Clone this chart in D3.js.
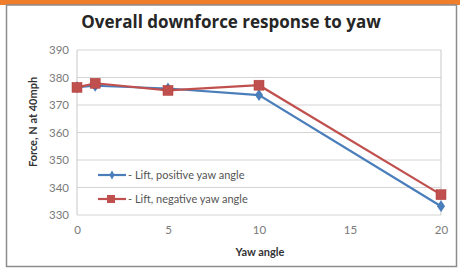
<!DOCTYPE html>
<html>
<head>
<meta charset="utf-8">
<script src="https://cdn.jsdelivr.net/npm/d3@7"></script>
<style>
  body { margin: 0; background: #fff; }
  text { font-family: Lato, "Open Sans", sans-serif; }
  text.title { font-family: "Open Sans", sans-serif; }
</style>
</head>
<body>
<div id="chart"></div>
<script>
// chart values
const yawAngles = [0, 1, 5, 10, 20];
const liftPositive = [376.5, 377, 376, 373.6, 333.2];
const liftNegative = [376.4, 377.9, 375.3, 377.2, 337.4];
const seriesNames = ["- Lift, positive yaw angle", "- Lift, negative yaw angle"];
const xTicks = [0, 5, 10, 15, 20];
const yTicks = [330, 340, 350, 360, 370, 380, 390];

var width = 460, height = 271;
var margin = {top: 50, right: 19, bottom: 56, left: 77};

var svg = d3.select("#chart").append("svg")
  .attr("width", width)
  .attr("height", height);

// orange strip + frame
svg.append("rect").attr("x", 0).attr("y", 0).attr("width", width).attr("height", 5)
  .attr("fill", "#ef7d2c");
svg.append("rect").attr("x", 6.5).attr("y", 5).attr("width", 450).attr("height", 261.5)
  .attr("fill", "none").attr("stroke", "#8c8c8c").attr("stroke-width", 1.5);

svg.append("text")
  .attr("class", "title")
  .attr("x", 231).attr("y", 28)
  .attr("text-anchor", "middle")
  .attr("font-size", 17).attr("font-weight", "bold")
  .attr("fill", "#262626")
  .text("Overall downforce response to yaw");

var x = d3.scaleLinear().domain([0, 20]).range([margin.left, width - margin.right]);
var y = d3.scaleLinear().domain([330, 390]).range([height - margin.bottom, margin.top]);

var g = svg.append("g");

// gridlines
g.selectAll(".grid").data(yTicks).enter().append("line")
  .attr("x1", x(0)).attr("x2", x(20))
  .attr("y1", d => y(d)).attr("y2", d => y(d))
  .attr("stroke", "#d4d4d4").attr("stroke-width", 1);

g.append("line").attr("x1", x(0)).attr("x2", x(0)).attr("y1", y(390)).attr("y2", y(330))
  .attr("stroke", "#c8c8c8");
g.append("line").attr("x1", x(20)).attr("x2", x(20)).attr("y1", y(390)).attr("y2", y(330))
  .attr("stroke", "#c8c8c8");

// axes (labels only)
var yAxis = g.append("g")
  .attr("transform", "translate(" + (x(0) - 5) + ",0)")
  .call(d3.axisLeft(y).tickValues(yTicks).tickSize(0).tickPadding(3));
var xAxis = g.append("g")
  .attr("transform", "translate(0," + (y(330) + 8) + ")")
  .call(d3.axisBottom(x).tickValues(xTicks).tickSize(0).tickPadding(3));
[yAxis, xAxis].forEach(function (a) {
  a.select(".domain").remove();
  a.selectAll("text").attr("font-size", 11.5).attr("fill", "#7a7a7a");
});

svg.append("text")
  .attr("x", 260).attr("y", 256)
  .attr("text-anchor", "middle")
  .attr("font-size", 11).attr("font-weight", "bold").attr("fill", "#333")
  .text("Yaw angle");

svg.append("text")
  .attr("transform", "translate(37,122) rotate(-90)")
  .attr("text-anchor", "middle")
  .attr("font-size", 11).attr("font-weight", "bold").attr("fill", "#333")
  .text("Force, N at 40mph");

var line = d3.line()
  .x(function (d, i) { return x(yawAngles[i]); })
  .y(function (d) { return y(d); });

var series = [
  {name: seriesNames[0], values: liftPositive, color: "#4a7ebb", marker: "diamond"},
  {name: seriesNames[1], values: liftNegative, color: "#c0504d", marker: "square"}
];

function drawMarker(sel, s, cx, cy) {
  if (s.marker === "square") {
    sel.append("rect").attr("x", cx - 5).attr("y", cy - 5).attr("width", 10).attr("height", 10)
      .attr("fill", s.color).attr("stroke", "#b03b38").attr("stroke-width", 0.5);
  } else {
    sel.append("path")
      .attr("d", d3.symbol().type(d3.symbolDiamond).size(40)())
      .attr("transform", "translate(" + cx + "," + cy + ") scale(1.2,1)")
      .attr("fill", s.color);
  }
}

series.forEach(function (s) {
  g.append("path").datum(s.values)
    .attr("d", line)
    .attr("fill", "none").attr("stroke", s.color).attr("stroke-width", 2.2);
  s.values.forEach(function (v, i) {
    drawMarker(g, s, x(yawAngles[i]), y(v));
  });
});

// legend
var legend = svg.append("g");
series.forEach(function (s, i) {
  var ly = 175 + i * 24;
  legend.append("line").attr("x1", 98).attr("x2", 126).attr("y1", ly).attr("y2", ly)
    .attr("stroke", s.color).attr("stroke-width", 2.2);
  if (s.marker === "square") {
    legend.append("rect").attr("x", 107).attr("y", ly - 4).attr("width", 8).attr("height", 8)
      .attr("fill", s.color);
  } else {
    legend.append("path")
      .attr("d", d3.symbol().type(d3.symbolDiamond).size(24)())
      .attr("transform", "translate(112," + ly + ")")
      .attr("fill", s.color);
  }
  legend.append("text").attr("x", 128).attr("y", ly + 4)
    .attr("font-size", 11).attr("fill", "#555")
    .text(s.name);
});
</script>
</body>
</html>
